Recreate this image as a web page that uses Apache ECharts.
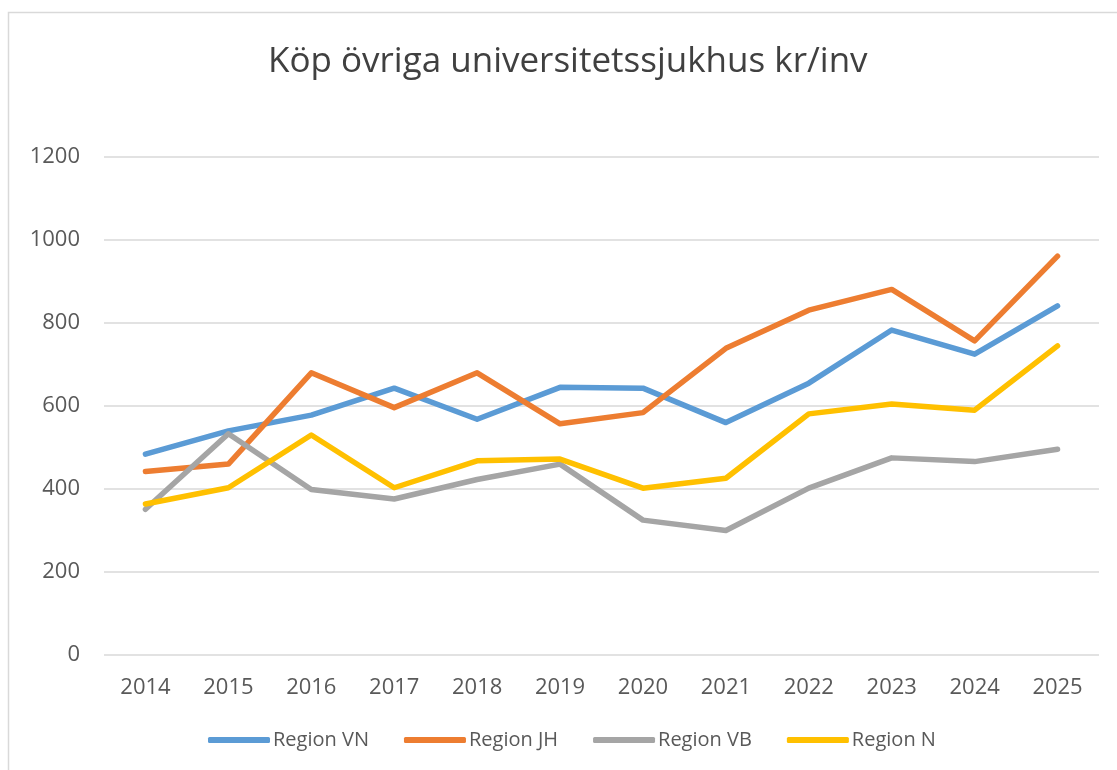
<!DOCTYPE html>
<html>
<head>
<meta charset="utf-8">
<script src="https://cdn.jsdelivr.net/npm/echarts@6/dist/echarts.min.js"></script>
<style>
  html, body { margin: 0; padding: 0; background: #fff; }
  #chart { width: 1117px; height: 770px; }
</style>
</head>
<body>
<div id="chart"></div>
<script>
// år på x-axeln
var years = ['2014', '2015', '2016', '2017', '2018', '2019', '2020', '2021', '2022', '2023', '2024', '2025'];

// kr/inv per region
var regionVN = [484, 540, 578, 643, 568, 645, 643, 560, 655, 783, 725, 841];
var regionJH = [442, 460, 680, 596, 680, 557, 584, 739, 831, 881, 757, 961];
var regionVB = [351, 533, 399, 376, 423, 460, 325, 300, 402, 475, 466, 496];
var regionN = [364, 403, 530, 403, 468, 472, 402, 426, 581, 605, 590, 745];

var seriesNames = ['Region VN', 'Region JH', 'Region VB', 'Region N'];
var colors = ['#5B9BD5', '#ED7D31', '#A5A5A5', '#FFC000'];

var chart = echarts.init(document.getElementById('chart'));

function lineSeries(name, data, color) {
  return {
    name: name,
    type: 'line',
    data: data,
    symbol: 'none',
    smooth: false,
    lineStyle: { width: 5.5, color: color, cap: 'round', join: 'round' },
    itemStyle: { color: color }
  };
}

var option = {
  animation: false,
  backgroundColor: '#fff',
  textStyle: { fontFamily: 'Open Sans' },
  graphic: [{
    type: 'rect',
    shape: { x: 8.5, y: 12.5, width: 1200, height: 900 },
    style: { fill: 'none', stroke: '#d9d9d9', lineWidth: 1.5 },
    silent: true
  }],
  title: {
    text: 'Köp övriga universitetssjukhus kr/inv',
    left: 263,
    top: 40,
    textStyle: { fontSize: 35, fontWeight: 'normal', color: '#404040', fontFamily: 'Open Sans' }
  },
  legend: {
    data: seriesNames,
    bottom: 15,
    left: 203,
    icon: 'roundRect',
    itemWidth: 62,
    itemHeight: 6,
    itemGap: 35,
    textStyle: { fontSize: 20, color: '#595959', padding: [0, 0, 0, -2] }
  },
  grid: { left: 104, right: 18, top: 157, bottom: 115 },
  xAxis: {
    type: 'category',
    data: years,
    boundaryGap: true,
    axisLine: { show: false },
    axisTick: { show: false },
    axisLabel: { fontSize: 22, color: '#595959', margin: 22 }
  },
  yAxis: {
    type: 'value',
    min: 0,
    max: 1200,
    interval: 200,
    axisLine: { show: false },
    axisTick: { show: false },
    axisLabel: { fontSize: 22, color: '#595959', margin: 24, formatter: function (v) { return String(v); } },
    splitLine: { lineStyle: { color: '#d9d9d9', width: 1.5 } }
  },
  series: [
    lineSeries(seriesNames[0], regionVN, colors[0]),
    lineSeries(seriesNames[1], regionJH, colors[1]),
    lineSeries(seriesNames[2], regionVB, colors[2]),
    lineSeries(seriesNames[3], regionN, colors[3])
  ]
};

chart.setOption(option);
</script>
</body>
</html>
